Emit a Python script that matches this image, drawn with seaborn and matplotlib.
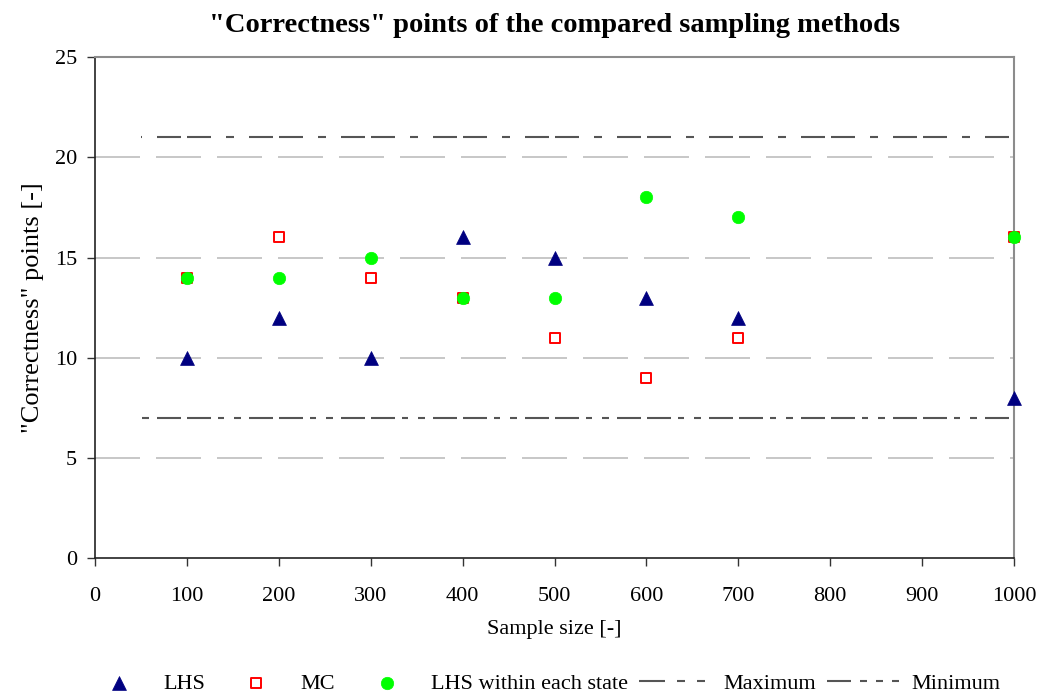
import numpy as np
import pandas as pd
import matplotlib
matplotlib.use("Agg")
import matplotlib.pyplot as plt
import seaborn as sns

# ---- data ----
sample_sizes = [100, 200, 300, 400, 500, 600, 700, 1000]
lhs_points = [10, 12, 10, 16, 15, 13, 12, 8]
mc_points = [14, 16, 14, 13, 11, 9, 11, 16]
lhs_state_points = [14, 14, 15, 13, 13, 18, 17, 16]
limit_x = [50, 1000]
maximum_y = [21, 21]
minimum_y = [7, 7]
x_ticks = [0, 100, 200, 300, 400, 500, 600, 700, 800, 900, 1000]
y_ticks = [0, 5, 10, 15, 20, 25]

title = '"Correctness" points of the compared sampling methods'
xlabel = "Sample size [-]"
ylabel = '"Correctness" points [-]'

sns.set_style("white")
plt.rcParams["font.family"] = ["Liberation Serif", "DejaVu Serif"]
plt.rcParams["lines.scale_dashes"] = False
for k in ["text.color", "axes.labelcolor", "xtick.color", "ytick.color"]:
    plt.rcParams[k] = "black"

fig = plt.figure(figsize=(10.5, 6.96), dpi=100)
ax = fig.add_axes([0.0905, 0.198, 0.8752, 0.720])

px = 0.72  # pixels -> points at 100 dpi

# gridlines
for yv in y_ticks[1:-1]:
    ax.axhline(yv, color="#bdbdbd", lw=1.2, zorder=0,
               linestyle=(0, (45 * px, 16 * px)))

# limit lines
max_style = (76 * px, (24 * px, 6 * px, 24 * px, 15 * px, 8 * px, 15 * px))
min_style = (76 * px, (24 * px, 6 * px, 24 * px, 7 * px, 6 * px, 10 * px, 7 * px, 8 * px))
sns.lineplot(x=limit_x, y=maximum_y, ax=ax, color="#555555", lw=1.5,
             linestyle=max_style, label="Maximum", zorder=2)
sns.lineplot(x=limit_x, y=minimum_y, ax=ax, color="#555555", lw=1.5,
             linestyle=min_style, label="Minimum", zorder=2)

# scatter series
sns.scatterplot(x=sample_sizes, y=lhs_points, ax=ax, marker="^", s=100,
                color="#000080", edgecolor="#000080", linewidth=0.5,
                label="LHS", zorder=4, clip_on=False)
sns.scatterplot(x=sample_sizes, y=mc_points, ax=ax, marker="s", s=55,
                facecolor="white", edgecolor="#ff0000", linewidth=1.4,
                label="MC", zorder=5, clip_on=False)
sns.scatterplot(x=sample_sizes, y=lhs_state_points, ax=ax, marker="o", s=80,
                color="#00ff00", edgecolor="#00ff00", linewidth=0.5,
                label="LHS within each state", zorder=6, clip_on=False)

ax.set_xlim(0, 1000)
ax.set_ylim(0, 25)
ax.set_xticks(x_ticks)
ax.set_yticks(y_ticks)
ax.tick_params(axis="both", direction="out", length=6, width=1, color="#333333",
               labelsize=16)
ax.tick_params(axis="x", pad=15, bottom=True)
ax.tick_params(axis="y", pad=7, left=True)

for side in ["left", "bottom"]:
    ax.spines[side].set_color("#222222")
    ax.spines[side].set_linewidth(1.2)
for side in ["top", "right"]:
    ax.spines[side].set_color("#8c8c8c")
    ax.spines[side].set_linewidth(1.5)

ax.set_xlabel(xlabel, fontsize=16, labelpad=10)
ax.set_ylabel(ylabel, fontsize=19, labelpad=8)
ax.set_title(title, fontsize=20.5, fontweight="bold", pad=18)

handles, labels = ax.get_legend_handles_labels()
order = ["LHS", "MC", "LHS within each state", "Maximum", "Minimum"]
hmap = dict(zip(labels, handles))
leg = ax.legend([hmap[k] for k in order], order, loc="lower center",
                bbox_to_anchor=(0.484, -0.31), ncol=5, frameon=False, fontsize=16,
                handlelength=3.6, columnspacing=0.5, handletextpad=0.2)

# legend samples of the limit lines, as drawn in the original legend
leg_styles = {
    "Maximum": (0, (26 * px, 12 * px, 8 * px, 12 * px, 8 * px, 14 * px)),
    "Minimum": (0, (24 * px, 9 * px, 7 * px, 9 * px, 7 * px, 9 * px, 7 * px, 8 * px)),
}
for line, text in zip(leg.get_lines(), [t.get_text() for t in leg.get_texts() if t.get_text() in leg_styles]):
    line.set_linestyle(leg_styles[text])

fig.savefig("out.png", dpi=100)
